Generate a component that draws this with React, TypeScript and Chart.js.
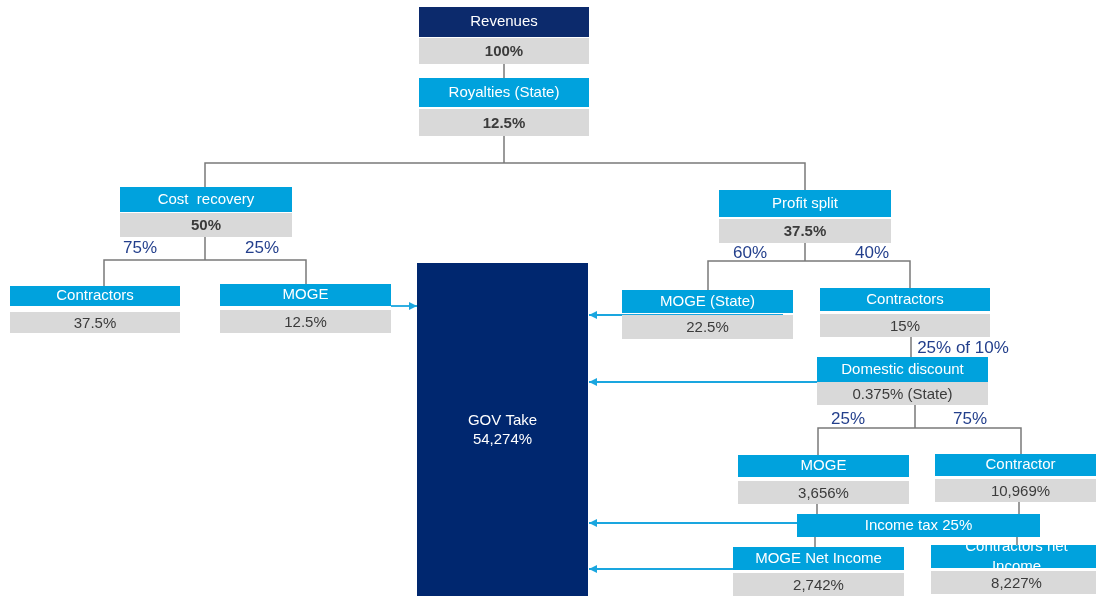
import React, { useEffect, useRef } from 'react';
import { Chart, registerables } from 'chart.js';

Chart.register(...registerables);

// ---------- data ----------
const nodeTitles = [
  'Revenues',
  'Royalties (State)',
  'Cost  recovery',
  'Profit split',
  'Contractors',
  'MOGE',
  'MOGE (State)',
  'Contractors',
  'Domestic discount',
  'MOGE',
  'Contractor',
  'Income tax 25%',
  'MOGE Net Income',
  'Contractors net\nIncome',
];
const nodeValues = [
  '100%',
  '12.5%',
  '50%',
  '37.5%',
  '37.5%',
  '12.5%',
  '22.5%',
  '15%',
  '0.375% (State)',
  '3,656%',
  '10,969%',
  '',
  '2,742%',
  '8,227%',
];
const branchLabels = ['75%', '25%', '60%', '40%', '25% of 10%', '25%', '75%'];
const govTitle = 'GOV Take';
const govValue = '54,274%';

// ---------- layout (diagram units = page pixels) ----------
const nodeLeft = [419, 419, 120, 719, 10, 220, 622, 820, 817, 738, 935, 797, 733, 931];
const nodeWidth = [170, 170, 172, 172, 170, 171, 171, 170, 171, 171, 171, 243, 171, 171];
const headerTop = [7, 78, 187, 190, 286, 284, 290, 288, 357, 455, 454, 514, 547, 545];
const headerHeight = [30, 29, 25, 27, 20, 22, 23, 23, 25, 22, 22, 23, 23, 23];
const valueTop = [38, 109, 213, 219, 312, 310, 315, 314, 382, 481, 479, 0, 573, 571];
const valueHeight = [26, 27, 24, 24, 21, 23, 24, 23, 23, 23, 23, 0, 23, 23];
const valueBold = [true, true, true, true, false, false, false, false, false, false, false, false, false, false];
const headerDark = [true, false, false, false, false, false, false, false, false, false, false, false, false, false];

const branchX = [140, 262, 750, 872, 963, 848, 970];
const branchY = [248, 248, 253, 253, 348, 419, 419];

const govBox = { left: 417, top: 263, width: 171, height: 340 };

const connectorPaths: number[][][] = [
  [[504, 64], [504, 78]],
  [[504, 136], [504, 163]],
  [[205, 187], [205, 163], [805, 163], [805, 190]],
  [[205, 237], [205, 260]],
  [[104, 286], [104, 260], [306, 260], [306, 284]],
  [[805, 243], [805, 261]],
  [[708, 290], [708, 261], [910, 261], [910, 288]],
  [[911, 337], [911, 357]],
  [[915, 405], [915, 428]],
  [[818, 455], [818, 428], [1021, 428], [1021, 454]],
  [[817, 504], [817, 514]],
  [[1019, 502], [1019, 514]],
  [[815, 537], [815, 547]],
  [[1017, 537], [1017, 545]],
];

const arrowPaths: number[][][] = [
  [[391, 306], [417, 306]],
  [[783, 315], [589, 315]],
  [[817, 382], [589, 382]],
  [[797, 523], [589, 523]],
  [[733, 569], [589, 569]],
];

const COLORS = {
  navy: '#0c2a6c',
  gov: '#00276f',
  cyan: '#00a2dd',
  gray: '#d9d9d9',
  line: '#7a7a7a',
  arrow: '#1aa6df',
  value: '#3b3b3b',
  branch: '#233f8c',
};
const FONT = '"Liberation Sans", Arial, sans-serif';

const diagramPlugin = {
  id: 'diagram',
  afterDatasetsDraw(chart: any) {
    const { ctx } = chart;
    const xs = chart.scales.x;
    const ys = chart.scales.y;
    const px = (v: number) => xs.getPixelForValue(v);
    const py = (v: number) => ys.getPixelForValue(v);
    const rect = (l: number, t: number, w: number, h: number, fill: string) => {
      const x0 = px(l), x1 = px(l + w), y0 = py(t), y1 = py(t + h);
      ctx.fillStyle = fill;
      ctx.fillRect(x0, y0, x1 - x0, y1 - y0);
      return { x0, y0, x1, y1 };
    };
    ctx.save();
    ctx.textAlign = 'center';
    ctx.textBaseline = 'middle';

    // arrow heads
    arrowPaths.forEach((p) => {
      const a = p[p.length - 2], b = p[p.length - 1];
      const ex = px(b[0]), ey = py(b[1]);
      const dir = Math.sign(px(b[0]) - px(a[0])) || 1;
      ctx.fillStyle = COLORS.arrow;
      ctx.beginPath();
      ctx.moveTo(ex, ey);
      ctx.lineTo(ex - dir * 8, ey - 4);
      ctx.lineTo(ex - dir * 8, ey + 4);
      ctx.closePath();
      ctx.fill();
    });

    // gov box
    const g = rect(govBox.left, govBox.top, govBox.width, govBox.height, COLORS.gov);
    ctx.fillStyle = '#ffffff';
    ctx.font = `15px ${FONT}`;
    const gx = (g.x0 + g.x1) / 2;
    ctx.fillText(govTitle, gx, py(421));
    ctx.fillText(govValue, gx, py(440));

    // nodes
    nodeTitles.forEach((title, i) => {
      const h = rect(nodeLeft[i], headerTop[i], nodeWidth[i], headerHeight[i], headerDark[i] ? COLORS.navy : COLORS.cyan);
      const cx = (h.x0 + h.x1) / 2;
      ctx.save();
      ctx.beginPath();
      ctx.rect(h.x0, h.y0, h.x1 - h.x0, h.y1 - h.y0);
      ctx.clip();
      ctx.fillStyle = '#ffffff';
      ctx.font = `15px ${FONT}`;
      const lines = title.split('\n');
      if (lines.length === 1) {
        ctx.fillText(title, cx, (h.y0 + h.y1) / 2);
      } else {
        const mid = (h.y0 + h.y1) / 2;
        ctx.fillText(lines[0], cx, mid - 10);
        ctx.fillText(lines[1], cx, mid + 10);
      }
      ctx.restore();
      if (valueHeight[i] > 0) {
        const v = rect(nodeLeft[i], valueTop[i], nodeWidth[i], valueHeight[i], COLORS.gray);
        ctx.fillStyle = COLORS.value;
        ctx.font = `${valueBold[i] ? 'bold ' : ''}15px ${FONT}`;
        ctx.fillText(nodeValues[i], cx, (v.y0 + v.y1) / 2 + 1);
      }
    });

    // branch labels
    ctx.fillStyle = COLORS.branch;
    ctx.font = `17px ${FONT}`;
    branchLabels.forEach((t, i) => {
      ctx.fillText(t, px(branchX[i]), py(branchY[i]));
    });
    ctx.restore();
  },
};

export default function App() {
  const ref = useRef<HTMLCanvasElement>(null);
  useEffect(() => {
    document.body.style.margin = '0';
    const datasets: any[] = [];
    connectorPaths.forEach((p) => {
      datasets.push({
        data: p.map(([x, y]) => ({ x, y })),
        showLine: true,
        borderColor: COLORS.line,
        borderWidth: 1.5,
        pointRadius: 0,
        fill: false,
      });
    });
    arrowPaths.forEach((p) => {
      datasets.push({
        data: p.map(([x, y]) => ({ x, y })),
        showLine: true,
        borderColor: COLORS.arrow,
        borderWidth: 1.8,
        pointRadius: 0,
        fill: false,
      });
    });
    const chart = new Chart(ref.current as HTMLCanvasElement, {
      type: 'scatter',
      data: { datasets },
      options: {
        animation: false,
        responsive: false,
        layout: { padding: 0 },
        plugins: { legend: { display: false }, tooltip: { enabled: false } },
        events: [],
        scales: {
          x: { type: 'linear', min: 0, max: 1096, display: false },
          y: { type: 'linear', min: 0, max: 596, reverse: true, display: false },
        },
      } as any,
      plugins: [diagramPlugin],
    });
    return () => chart.destroy();
  }, []);
  return (
    <div style={{ position: 'fixed', left: 0, top: 0, width: 1096, height: 596, background: '#ffffff' }}>
      <canvas ref={ref} width={1096} height={596} style={{ display: 'block' }} />
    </div>
  );
}
